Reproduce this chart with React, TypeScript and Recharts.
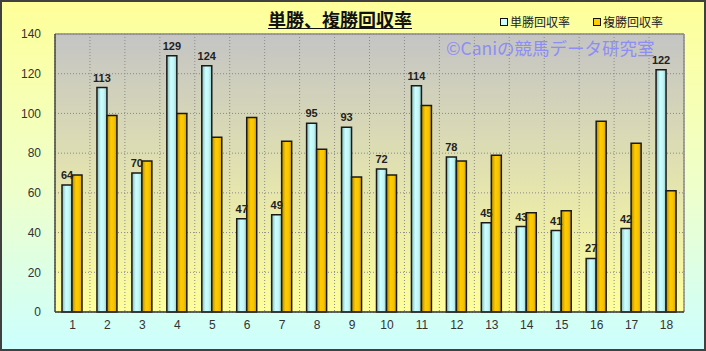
import React from 'react';
import { BarChart, Bar, XAxis, YAxis, CartesianGrid, LabelList } from 'recharts';

const categories = ['1','2','3','4','5','6','7','8','9','10','11','12','13','14','15','16','17','18'];
const tanshoValues = [64, 113, 70, 129, 124, 47, 49, 95, 93, 72, 114, 78, 45, 43, 41, 27, 42, 122];
const fukushoValues = [69, 99, 76, 100, 88, 98, 86, 82, 68, 69, 104, 76, 79, 50, 51, 96, 85, 61];
const yTicks = [0, 20, 40, 60, 80, 100, 120, 140];
const seriesNames = ['単勝回収率', '複勝回収率'];
const titleText = '単勝、複勝回収率';
const watermarkText = '©Caniの競馬データ研究室';

const data = categories.map((c, i) => ({ name: c, tansho: tanshoValues[i], fukusho: fukushoValues[i] }));

const JP = '"Noto Sans CJK JP", sans-serif';
const NUM = '"Liberation Sans", Arial, sans-serif';

export default function App() {
  return (
    <div style={{ position: 'absolute', left: 0, top: 0, width: 706, height: 351, background: 'linear-gradient(to bottom, #FFFF99 0%, #EEFFCC 55%, #CCFFFF 100%)' }}>
      <BarChart width={706} height={351} data={data} margin={{ top: 34, right: 22, left: 0, bottom: 0 }} barSize={10} barGap={0}>
        <defs>
          <linearGradient id="plotBg" x1="0" y1="0" x2="0" y2="1">
            <stop offset="0%" stopColor="#C4C4C4" />
            <stop offset="100%" stopColor="#FFFF9C" />
          </linearGradient>
          <linearGradient id="cyanGrad" x1="0" y1="0" x2="1" y2="0">
            <stop offset="0%" stopColor="#86B8B8" />
            <stop offset="40%" stopColor="#CCFFFF" />
            <stop offset="70%" stopColor="#C2F6F6" />
            <stop offset="100%" stopColor="#94CACA" />
          </linearGradient>
          <linearGradient id="goldGrad" x1="0" y1="0" x2="1" y2="0">
            <stop offset="0%" stopColor="#B08800" />
            <stop offset="40%" stopColor="#FFCC00" />
            <stop offset="70%" stopColor="#F8C400" />
            <stop offset="100%" stopColor="#D0A000" />
          </linearGradient>
        </defs>
        <CartesianGrid
          strokeDasharray="1 2"
          stroke="#8a8a8a"
          fill="url(#plotBg)"
          fillOpacity={1}
          verticalCoordinatesGenerator={({ offset }: any) =>
            Array.from({ length: categories.length + 1 }, (_, i) => offset.left + (i * offset.width) / categories.length)
          }
        />
        <CartesianGrid
          stroke="#8a8a8a"
          strokeWidth={1.5}
          horizontalCoordinatesGenerator={({ offset }: any) => [offset.top]}
          verticalCoordinatesGenerator={({ offset }: any) => [offset.left + offset.width]}
        />
        <XAxis
          dataKey="name"
          height={39}
          interval={0}
          axisLine={{ stroke: '#333', strokeWidth: 1.5 }}
          tickLine={false}
          tick={{ fill: '#333', fontSize: 12, fontFamily: NUM }}
        />
        <YAxis
          width={55}
          domain={[0, 140]}
          ticks={yTicks}
          interval={0}
          axisLine={{ stroke: '#444', strokeWidth: 1.5 }}
          tickLine={false}
          tickSize={0}
          tickMargin={14}
          tick={{ fill: '#333', fontSize: 12, fontFamily: NUM }}
        />
        <Bar dataKey="tansho" fill="url(#cyanGrad)" stroke="#1a1a1a" strokeWidth={1.5} isAnimationActive={false}>
          <LabelList dataKey="tansho" position="top" offset={6} style={{ fontSize: 11, fontWeight: 'bold', fill: '#222', fontFamily: NUM }} />
        </Bar>
        <Bar dataKey="fukusho" fill="url(#goldGrad)" stroke="#1a1a1a" strokeWidth={1.5} isAnimationActive={false} />
      </BarChart>
      <div style={{ position: 'absolute', left: 0, top: 8, width: 680, textAlign: 'center', fontFamily: JP, fontWeight: 'bold', fontSize: 18, lineHeight: '22px', color: '#111', textDecoration: 'underline' }}>
        <span>{titleText}</span>
      </div>
      <div style={{ position: 'absolute', left: 500, top: 14, display: 'flex', alignItems: 'center', fontFamily: JP, fontSize: 12, lineHeight: '16px', color: '#222' }}>
        <span style={{ width: 6, height: 6, border: '1.5px solid #111', background: '#CCFFFF', marginRight: 2 }} />
        <span style={{ marginRight: 23 }}>{seriesNames[0]}</span>
        <span style={{ width: 6, height: 6, border: '1.5px solid #111', background: '#FFCC00', marginRight: 2 }} />
        <span>{seriesNames[1]}</span>
      </div>
      <div style={{ position: 'absolute', left: 446, top: 36, fontFamily: JP, fontSize: 17.5, lineHeight: '24px', color: '#8484ff', opacity: 0.85, whiteSpace: 'nowrap' }}>
        {watermarkText}
      </div>
      <div style={{ position: 'absolute', left: 0, top: 0, width: 706, height: 351, boxSizing: 'border-box', border: '2px solid #404040', pointerEvents: 'none' }} />
    </div>
  );
}
